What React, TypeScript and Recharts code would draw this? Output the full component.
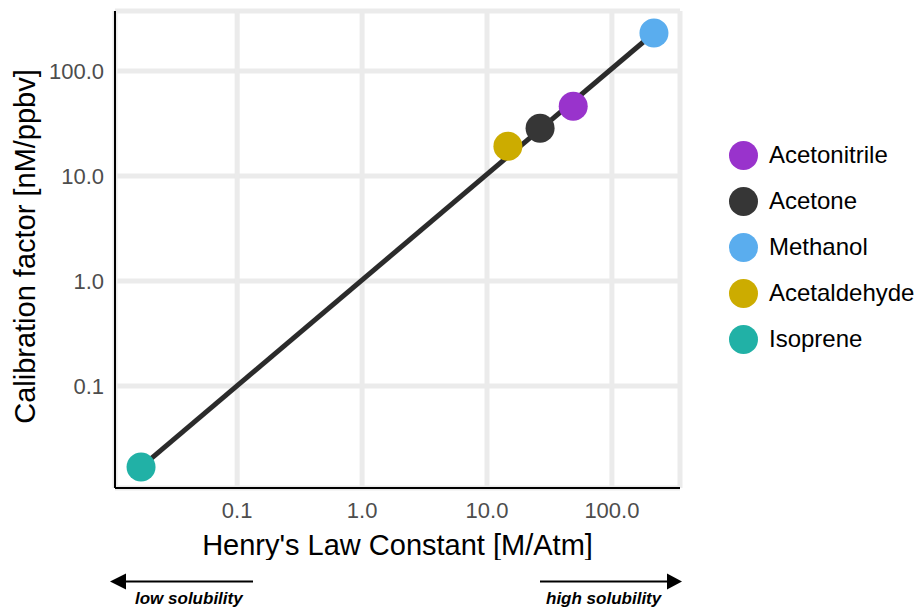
import React from 'react';
import { ScatterChart, Scatter, XAxis, YAxis, CartesianGrid } from 'recharts';

const compounds = ['Acetonitrile', 'Acetone', 'Methanol', 'Acetaldehyde', 'Isoprene'];
const henryConst = [49, 26.6, 217, 14.7, 0.017];
const calibFactor = [46.2, 28.5, 230, 19.2, 0.0169];
const colors = ['#9933cc', '#363636', '#5aadee', '#ccac00', '#21b1a6'];

const fitX = [0.017, 217];
const fitY = [0.0169, 230];

const xTicks = [0.1, 1, 10, 100];
const yTicks = [0.1, 1, 10, 100];

const font = '"Liberation Sans", Arial, Helvetica, sans-serif';

const fitData = fitX.map((x, i) => ({ x, y: fitY[i] }));

const Dot = (color: string) => (props: any) => (
  <circle cx={props.cx} cy={props.cy} r={14.5} fill={color} />
);

const App: React.FC = () => {
  return (
    <div style={{ position: 'absolute', left: 0, top: 0, width: 917, height: 611, background: '#fff', fontFamily: font }}>
      <ScatterChart width={917} height={560} margin={{ top: 11, right: 237, bottom: 0, left: 0 }}>
        <CartesianGrid stroke="#ebebeb" strokeWidth={5} />
        <XAxis
          type="number"
          dataKey="x"
          scale="log"
          domain={[Math.pow(10, -1.978), Math.pow(10, 2.545)]}
          allowDataOverflow
          ticks={xTicks}
          tickFormatter={(v: number) => v.toFixed(1)}
          height={72}
          tickLine={false}
          tickSize={12}
          tickMargin={2}
          axisLine={{ stroke: '#000', strokeWidth: 2 }}
          tick={{ fill: '#4d4d4d', fontSize: 22, fontFamily: font }}
          label={{ value: "Henry's Law Constant [M/Atm]", position: 'insideBottom', offset: 5, fill: '#000', fontSize: 29, fontFamily: font }}
        />
        <YAxis
          type="number"
          dataKey="y"
          scale="log"
          domain={[Math.pow(10, -1.971), Math.pow(10, 2.571)]}
          allowDataOverflow
          ticks={yTicks}
          tickFormatter={(v: number) => v.toFixed(1)}
          width={115}
          tickLine={false}
          tickSize={9}
          tickMargin={2}
          axisLine={{ stroke: '#000', strokeWidth: 2 }}
          tick={{ fill: '#4d4d4d', fontSize: 22, fontFamily: font }}
          label={(p: any) => {
            const vb = p.viewBox || { x: 0, y: 11, height: 477 };
            const cy = vb.y + vb.height / 2 - 3;
            return (
              <text x={35} y={cy} transform={`rotate(-90 35 ${cy})`} textAnchor="middle" fill="#000" fontSize={29} fontFamily={font}>
                Calibration factor [nM/ppbv]
              </text>
            );
          }}
        />
        <Scatter
          data={fitData}
          line={{ stroke: '#2b2b2b', strokeWidth: 5 }}
          shape={() => <g />}
          legendType="none"
          isAnimationActive={false}
        />
        {compounds.map((name, i) => (
          <Scatter
            key={name}
            name={name}
            data={[{ x: henryConst[i], y: calibFactor[i] }]}
            fill={colors[i]}
            shape={Dot(colors[i])}
            isAnimationActive={false}
          />
        ))}
      </ScatterChart>

      <div style={{ position: 'absolute', left: 729, top: 132 }}>
        {compounds.map((name, i) => (
          <div key={name} style={{ display: 'flex', alignItems: 'center', height: 46 }}>
            <span style={{ width: 29, height: 29, borderRadius: '50%', background: colors[i], display: 'inline-block' }} />
            <span style={{ marginLeft: 11, fontSize: 24, color: '#000' }}>{name}</span>
          </div>
        ))}
      </div>

      <svg width={917} height={51} style={{ position: 'absolute', left: 0, top: 560 }}>
        <line x1={253} y1={21.5} x2={124} y2={21.5} stroke="#000" strokeWidth={2} />
        <polygon points="110,21.5 126,13.5 126,29.5" fill="#000" />
        <text x={135} y={44} fontSize={17} fontWeight="bold" fontStyle="italic" fontFamily={font} fill="#000">
          low solubility
        </text>
        <line x1={540} y1={21.5} x2={669} y2={21.5} stroke="#000" strokeWidth={2} />
        <polygon points="682,21.5 667,13.5 667,29.5" fill="#000" />
        <text x={546} y={44} fontSize={17} fontWeight="bold" fontStyle="italic" fontFamily={font} fill="#000">
          high solubility
        </text>
      </svg>
    </div>
  );
};

export default App;
